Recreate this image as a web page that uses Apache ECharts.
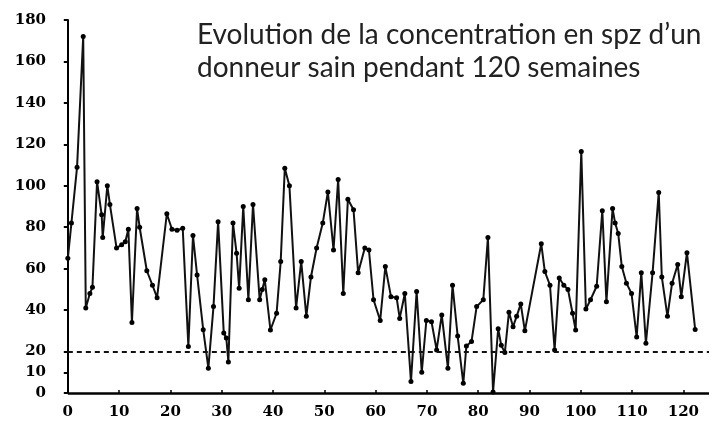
<!DOCTYPE html>
<html>
<head>
<meta charset="utf-8">
<script src="https://cdn.jsdelivr.net/npm/echarts@6/dist/echarts.min.js"></script>
<style>
html,body{margin:0;padding:0;background:#fff;}
#chart{width:712px;height:423px;}
</style>
</head>
<body>
<div id="chart"></div>
<script>
// Week of each sample
const weeks = [
  0, 0.7, 1.8, 3.0, 3.5, 4.3, 4.8, 5.7, 6.6, 6.8, 7.7, 8.2, 9.5, 10.5, 11.2, 11.8, 12.5, 13.5, 14.0, 15.4,
  16.5, 17.4, 19.3, 20.3, 21.3, 22.4, 23.5, 24.4, 25.2, 26.4, 27.4, 28.4, 29.3, 30.4, 30.9, 31.3, 32.2, 32.9, 33.4, 34.2,
  35.2, 36.1, 37.4, 37.9, 38.4, 39.5, 40.7, 41.5, 42.3, 43.2, 44.5, 45.5, 46.5, 47.4, 48.5, 49.7, 50.7, 51.8, 52.7, 53.7,
  54.6, 55.7, 56.6, 57.9, 58.7, 59.6, 60.9, 61.9, 63.0, 64.1, 64.7, 65.7, 66.9, 68.0, 69.0, 69.9, 70.9, 71.9, 72.9, 74.1,
  75.0, 76.0, 77.1, 77.7, 78.7, 79.7, 81.0, 81.9, 82.9, 83.9, 84.5, 85.2, 86.0, 86.8, 87.5, 88.3, 89.1, 92.3, 93.0, 94.0,
  94.9, 95.8, 96.7, 97.5, 98.4, 99.0, 100.1, 101.0, 101.9, 103.1, 104.2, 105.0, 106.2, 106.7, 107.3, 108.0, 108.9, 109.9, 110.9, 111.8,
  112.7, 114.0, 115.2, 115.8, 116.9, 117.8, 118.9, 119.6, 120.7, 122.3
];
// Sperm concentration (spz, million/mL)
const concentration = [
  65, 82, 109, 172, 41, 48, 51, 102, 86, 75, 100, 91, 70, 71.5, 73, 79, 34, 89, 80, 59,
  52, 46, 86.5, 79, 78.5, 79.5, 22.5, 76, 57, 30.5, 12, 41.7, 82.7, 29, 26.5, 15, 82, 67.5, 50.5, 90,
  45, 91, 45, 50, 54.6, 30.4, 38.5, 63.4, 108.5, 100, 41, 63.4, 37, 56, 70, 82, 97, 69, 103, 48,
  93.5, 88.4, 58, 70, 69, 45, 35, 61, 46.5, 46, 36, 48, 5.5, 49, 10, 35, 34.4, 20.8, 37.7, 12,
  52, 27.5, 4.7, 22.7, 24.8, 41.7, 45, 75, 0.5, 31, 23, 19.5, 39, 32, 37, 43, 30, 72, 58.6, 52,
  20.8, 55.5, 52, 50, 38.5, 30.4, 116.6, 40.5, 45, 51.5, 88, 44, 89, 82, 77, 61, 53, 48, 27, 58,
  24, 58, 96.8, 56, 37, 53, 62, 46.5, 67.7, 30.7
];
const yTicks = [0, 10, 20, 40, 60, 80, 100, 120, 140, 160, 180];
const xTicks = [0, 10, 20, 30, 40, 50, 60, 70, 80, 90, 100, 110, 120];
const threshold = 20;
const xEnd = 125;
const titleLines = ['Evolution de la concentration en spz d\u2019un', 'donneur sain pendant 120 semaines'];

const chart = echarts.init(document.getElementById('chart'), null, {renderer: 'canvas'});
const data = weeks.map((w, i) => [w, concentration[i]]);

chart.setOption({
  animation: false,
  backgroundColor: '#fff',
  grid: {left: 55, right: 3, top: 20, bottom: 30, containLabel: false},
  xAxis: {
    type: 'value', min: -2.5, max: xEnd,
    axisLine: {show: false},
    axisTick: {show: true, inside: true, length: 3, customValues: xTicks, lineStyle: {color: '#000', width: 1.5}},
    axisLabel: {customValues: xTicks, margin: 12, color: '#000', fontFamily: 'DejaVu Serif', fontWeight: 'bold', fontSize: 15},
    splitLine: {show: false}
  },
  yAxis: {
    type: 'value', min: 0, max: 180,
    axisLine: {show: true, lineStyle: {color: '#000', width: 2}},
    axisTick: {show: true, length: 4, customValues: yTicks, lineStyle: {color: '#000', width: 2}},
    axisLabel: {customValues: yTicks, margin: 9, color: '#000', fontFamily: 'DejaVu Serif', fontWeight: 'bold', fontSize: 15},
    splitLine: {show: false}
  },
  graphic: [{
    type: 'text', left: 197, top: 18,
    style: {text: titleLines.join('\n'), font: '28px Lato', fill: '#222', lineHeight: 33}
  }],
  series: [{
    type: 'line',
    data: data,
    symbol: 'circle', symbolSize: 5,
    itemStyle: {color: '#000'},
    lineStyle: {color: '#111', width: 2},
    z: 3,
    markLine: {
      silent: true, symbol: 'none', label: {show: false},
      data: [
        [{coord: [0, threshold], lineStyle: {type: [5, 4], width: 2, color: '#111'}}, {coord: [xEnd, threshold]}],
        [{coord: [0, 0], lineStyle: {type: 'solid', width: 2.5, color: '#000'}}, {coord: [xEnd, 0]}]
      ]
    }
  }]
});
</script>
</body>
</html>
